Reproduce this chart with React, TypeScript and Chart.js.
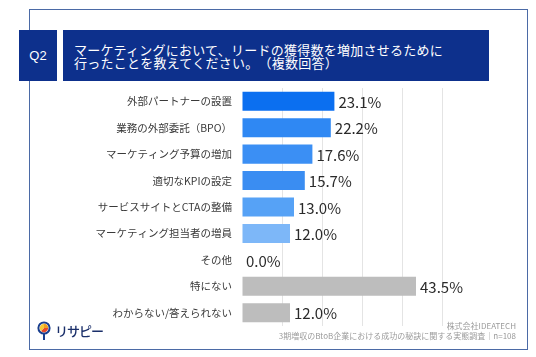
import React, { useEffect, useRef } from "react";
import { Chart, registerables } from "chart.js";

Chart.register(...registerables);

const categories = [
  "外部パートナーの設置",
  "業務の外部委託（BPO）",
  "マーケティング予算の増加",
  "適切なKPIの設定",
  "サービスサイトとCTAの整備",
  "マーケティング担当者の増員",
  "その他",
  "特にない",
  "わからない/答えられない",
];
const values = [23.1, 22.2, 17.6, 15.7, 13.0, 12.0, 0.0, 43.5, 12.0];
const barColors = [
  "#0b6ff0",
  "#2f88f3",
  "#3b8ff4",
  "#3a8df2",
  "#56a2f6",
  "#7db7f8",
  "#7db7f8",
  "#bdbdbd",
  "#bdbdbd",
];
const titleLines = [
  "マーケティングにおいて、リードの獲得数を増加させるために",
  "行ったことを教えてください。（複数回答）",
];
const questionNo = "Q2";
const sourceLines = [
  "株式会社IDEATECH",
  "3期増収のBtoB企業における成功の秘訣に関する実態調査｜n=108",
];
const logoText = "リサピー";

const NAVY = "#0d308c";
const JP = '"Noto Sans CJK JP", "Noto Sans", sans-serif';

const valueLabelPlugin = {
  id: "valueLabels",
  afterDatasetsDraw(chart: any) {
    const { ctx } = chart;
    const meta = chart.getDatasetMeta(0);
    ctx.save();
    ctx.font = `15px ${JP}`;
    ctx.fillStyle = "#2a2a2a";
    ctx.textAlign = "left";
    ctx.textBaseline = "middle";
    meta.data.forEach((bar: any, i: number) => {
      const v = values[i];
      ctx.fillText(v.toFixed(1) + "%", bar.x + 4, bar.y + 1);
    });
    ctx.restore();
  },
};

export default function App() {
  const canvasRef = useRef<HTMLCanvasElement | null>(null);

  useEffect(() => {
    if (!canvasRef.current) return;
    const chart = new Chart(canvasRef.current, {
      type: "bar",
      data: {
        labels: categories,
        datasets: [
          {
            data: values,
            backgroundColor: barColors,
            borderWidth: 0,
            barPercentage: 0.72,
            categoryPercentage: 1,
          },
        ],
      },
      options: {
        indexAxis: "y",
        responsive: false,
        animation: false,
        devicePixelRatio: 1,
        layout: { padding: { top: 88, bottom: 31, left: 0, right: 94 } },
        plugins: {
          legend: { display: false },
          tooltip: { enabled: false },
        },
        scales: {
          x: {
            min: 0,
            max: 50,
            ticks: { display: false, stepSize: 10 },
            grid: {
              drawTicks: false,
              color: (c: any) => (c.index === 0 ? "rgba(0,0,0,0)" : "#e4e4e4"),
              lineWidth: 1,
            },
            border: { display: false },
          },
          y: {
            afterFit: (scale: any) => {
              scale.width = 242;
            },
            ticks: {
              color: "#3a3a3a",
              font: { family: JP, size: 10.5 },
              padding: 10,
            },
            grid: { display: false, drawTicks: false },
            border: { display: false },
          },
        },
      },
      plugins: [valueLabelPlugin],
    });
    return () => chart.destroy();
  }, []);

  return (
    <div
      style={{
        position: "fixed",
        left: 0,
        top: 0,
        width: 536,
        height: 357,
        background: "#fff",
        overflow: "hidden",
      }}
    >
      <div
        style={{
          position: "absolute",
          left: 29,
          top: 9,
          width: 497,
          height: 339,
          border: "1.5px solid #4b6aa6",
        }}
      />
      <canvas
        ref={canvasRef}
        width={536}
        height={357}
        style={{ position: "absolute", left: 0, top: 0, width: 536, height: 357 }}
      />
      <div
        style={{
          position: "absolute",
          left: 19,
          top: 30,
          width: 38,
          height: 51,
          background: NAVY,
          color: "#fff",
          fontFamily: '"Liberation Sans", "Noto Sans", sans-serif',
          fontSize: 13,
          display: "flex",
          alignItems: "center",
          justifyContent: "center",
        }}
      >
        {questionNo}
      </div>
      <div
        style={
          {
            position: "absolute",
            left: 63,
            top: 30,
            width: 426,
            height: 51,
            background: NAVY,
            color: "#fff",
            fontFamily: JP,
            fontSize: 13,
            lineHeight: "13px",
            letterSpacing: 0.25,
            display: "flex",
            flexDirection: "column",
            justifyContent: "center",
            paddingLeft: 11,
            boxSizing: "border-box",
            textSpacingTrim: "space-all",
            fontFeatureSettings: '"palt" 0',
          } as any
        }
      >
        {titleLines.map((t, i) => (
          <div key={i}>{t}</div>
        ))}
      </div>
      <div
        style={{
          position: "absolute",
          right: 20,
          top: 321,
          textAlign: "right",
          fontFamily: JP,
          fontSize: 8,
          lineHeight: "10px",
          color: "#9a9a9a",
          whiteSpace: "nowrap",
        }}
      >
        {sourceLines.map((t, i) => (
          <div key={i}>{t}</div>
        ))}
      </div>
      <div
        style={{
          position: "absolute",
          left: 37,
          top: 321,
          display: "flex",
          alignItems: "center",
        }}
      >
        <svg width="14" height="19" viewBox="0 0 14 19">
          <line x1="7" y1="12" x2="7" y2="19" stroke="#1a3f8f" strokeWidth="2" />
          <circle cx="7" cy="7" r="5.6" fill="#fff" stroke="#1a3f8f" strokeWidth="2" />
          <path d="M7 7 L7 2.8 A4.2 4.2 0 0 1 11.2 7 Z" fill="#f0a020" />
          <path d="M7 7 L11.2 7 A4.2 4.2 0 0 1 4 10 Z" fill="#e84a2a" />
          <path d="M7 7 L4 10 A4.2 4.2 0 0 1 7 2.8 Z" fill="#f6c936" />
        </svg>
        <span
          style={{
            marginLeft: 4,
            fontFamily: JP,
            fontSize: 13,
            fontWeight: 500,
            color: "#1a2f6a",
            letterSpacing: -1,
          }}
        >
          {logoText}
        </span>
      </div>
    </div>
  );
}
